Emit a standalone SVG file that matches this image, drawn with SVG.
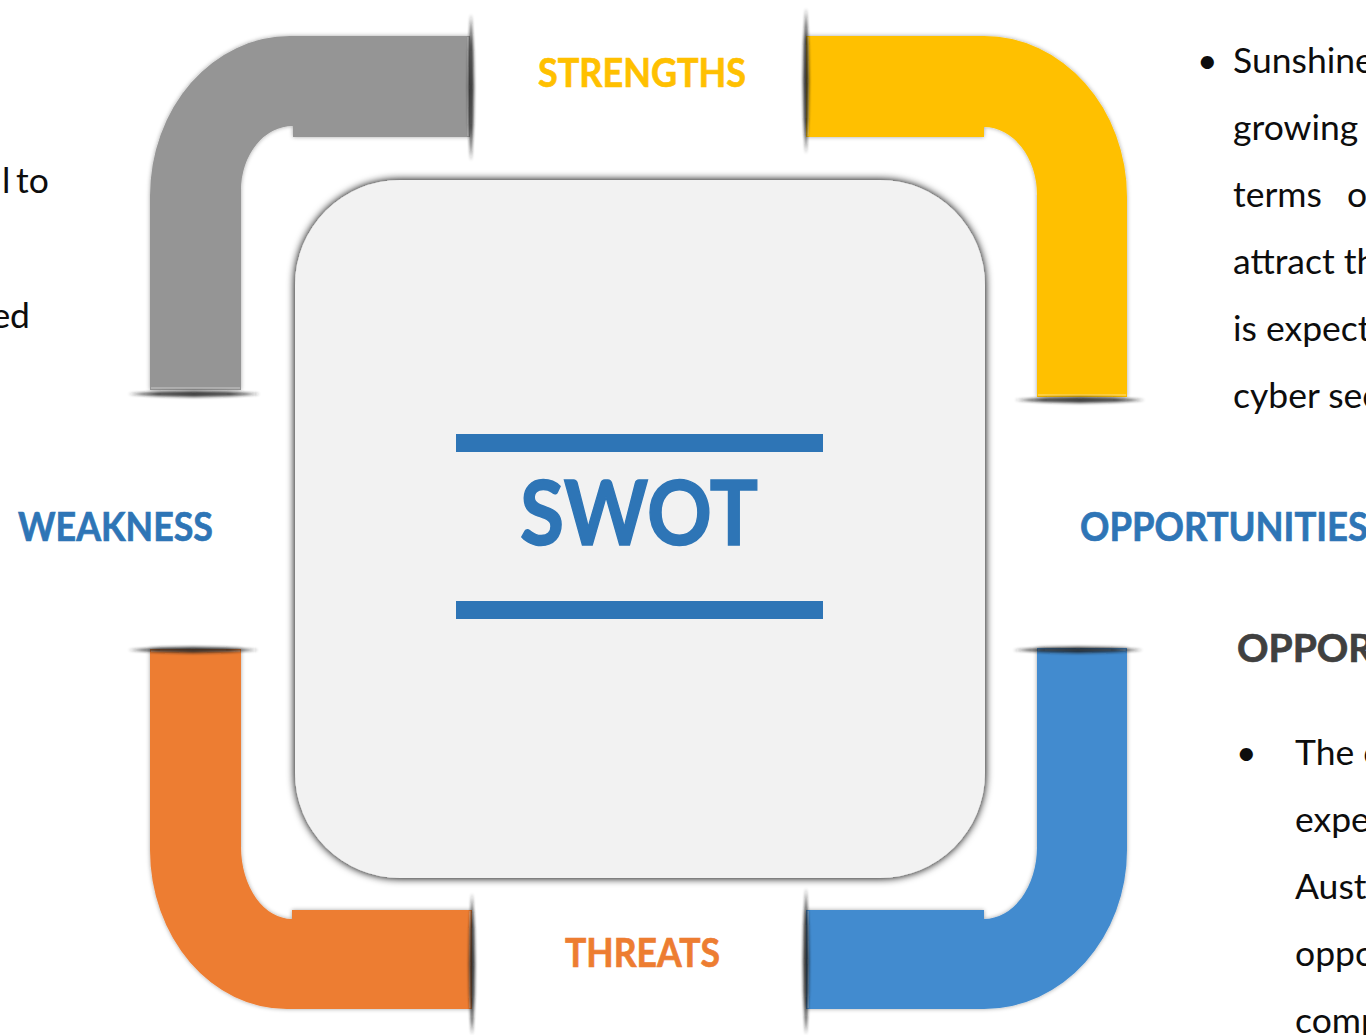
<svg xmlns="http://www.w3.org/2000/svg" width="1366" height="1035" viewBox="0 0 1366 1035">
  <defs>
    <filter id="armShadow" x="-10%" y="-10%" width="120%" height="120%">
      <feDropShadow dx="0" dy="0" stdDeviation="2" flood-color="#000" flood-opacity="0.35"/>
    </filter>
    <filter id="boxShadow" x="-10%" y="-10%" width="120%" height="120%">
      <feGaussianBlur in="SourceAlpha" stdDeviation="4"/>
      <feComponentTransfer><feFuncA type="linear" slope="1.1"/></feComponentTransfer>
      <feMerge><feMergeNode/><feMergeNode in="SourceGraphic"/></feMerge>
    </filter>
    <filter id="capBlur" x="-200%" y="-20%" width="500%" height="140%">
      <feGaussianBlur stdDeviation="1.6"/>
    </filter>
    <filter id="capBlurH" x="-20%" y="-200%" width="140%" height="500%">
      <feGaussianBlur stdDeviation="1.6"/>
    </filter>
  </defs>
  <style>
    .cap { fill: #1a1a1a; opacity: 0.85; }
    .shine { stroke: #ffffff; stroke-opacity: 0.25; stroke-width: 2; fill: none; }
    .label { font-family: Lato, "Liberation Sans", sans-serif; font-weight: 700; font-size: 41px; stroke-width: 0.7; }
    .body { font-family: Lato, "Liberation Sans", sans-serif; font-size: 35.5px; fill: #0d0d0d; }
    .head { font-family: Lato, "Liberation Sans", sans-serif; font-weight: 700; font-size: 39px; fill: #404040; stroke: #404040; stroke-width: 0.7; }
  </style>

  <rect width="1366" height="1035" fill="#ffffff"/>

  <!-- four elbow arms around the centre box -->
  <g id="arm-strengths-gray">
    <path d="M470,36 L290,36 A140,160 0 0 0 150,196 L150,390 L241,390 L241,190 A52,64 0 0 1 293,126 L293,137 L470,137 Z" fill="#959595" filter="url(#armShadow)"/>
    <line class="shine" x1="468" y1="37" x2="468" y2="136"/>
    <line class="shine" x1="151" y1="388" x2="240" y2="388"/>
    <path class="cap" filter="url(#capBlur)" d="M471,14 Q477,87 471,161 Q465,87 471,14 Z"/>
    <path class="cap" filter="url(#capBlurH)" d="M128,394 Q194,400 260,394 Q194,388 128,394 Z"/>
  </g>

  <g id="arm-opportunities-yellow">
    <path d="M806,36 L984,36 A143,161 0 0 1 1127,197 L1127,397 L1037,397 L1037,195 A53,68 0 0 0 984,127 L984,137 L806,137 Z" fill="#FFC000" filter="url(#armShadow)"/>
    <line class="shine" x1="808" y1="37" x2="808" y2="136"/>
    <line class="shine" x1="1038" y1="395" x2="1126" y2="395"/>
    <path class="cap" filter="url(#capBlur)" d="M806,8 Q812,81 806,154 Q800,81 806,8 Z"/>
    <path class="cap" filter="url(#capBlurH)" d="M1015,400 Q1080,406 1145,400 Q1080,394 1015,400 Z"/>
  </g>

  <g id="arm-weakness-orange">
    <path d="M150,649 L150,850 A137,159 0 0 0 287,1009 L472,1009 L472,910 L292,910 L292,919 A51,72 0 0 1 241,847 L241,649 Z" fill="#ED7D31" filter="url(#armShadow)"/>
    <line class="shine" x1="151" y1="651" x2="240" y2="651"/>
    <line class="shine" x1="470" y1="911" x2="470" y2="1008"/>
    <path class="cap" filter="url(#capBlurH)" d="M128,650 Q193,644 258,650 Q193,656 128,650 Z"/>
    <path class="cap" filter="url(#capBlur)" d="M472,893 Q478,964 472,1035 Q466,964 472,893 Z"/>
  </g>

  <g id="arm-threats-blue">
    <path d="M806,910 L984,910 L984,919 A53,72 0 0 0 1037,847 L1037,648 L1127,648 L1127,850 A143,159 0 0 1 984,1009 L806,1009 Z" fill="#428BCF" filter="url(#armShadow)"/>
    <line class="shine" x1="1038" y1="650" x2="1126" y2="650"/>
    <line class="shine" x1="808" y1="911" x2="808" y2="1008"/>
    <path class="cap" filter="url(#capBlurH)" d="M1013,650 Q1078,644 1143,650 Q1078,656 1013,650 Z"/>
    <path class="cap" filter="url(#capBlur)" d="M806,888 Q812,961 806,1035 Q800,961 806,888 Z"/>
  </g>

  <!-- centre box -->
  <g id="swot-box">
    <rect x="295" y="180" width="690" height="698" rx="105" ry="105" fill="#F2F2F2" filter="url(#boxShadow)"/>
    <rect x="456" y="434" width="367" height="18" fill="#2E75B6"/>
    <rect x="456" y="601" width="367" height="18" fill="#2E75B6"/>
    <text x="520" y="545" font-family="Lato, 'Liberation Sans', sans-serif" font-weight="700" font-size="90" fill="#2E75B6" stroke="#2E75B6" stroke-width="1.5" textLength="238" lengthAdjust="spacingAndGlyphs">SWOT</text>
  </g>

  <!-- quadrant labels -->
  <g id="label-strengths"><text class="label" x="538" y="87" fill="#FFC000" stroke="#FFC000" textLength="208" lengthAdjust="spacingAndGlyphs">STRENGTHS</text></g>
  <g id="label-weakness"><text class="label" x="18" y="541" fill="#2E75B6" stroke="#2E75B6" textLength="195" lengthAdjust="spacingAndGlyphs">WEAKNESS</text></g>
  <g id="label-opportunities"><text class="label" x="1080" y="541" fill="#2E75B6" stroke="#2E75B6" textLength="288" lengthAdjust="spacingAndGlyphs">OPPORTUNITIES</text></g>
  <g id="label-threats"><text class="label" x="565" y="967" fill="#ED7D31" stroke="#ED7D31" textLength="155" lengthAdjust="spacingAndGlyphs">THREATS</text></g>

  <!-- side notes -->
  <g id="note-left">
    <text class="body" x="2" y="193">l</text>
    <text class="body" x="16" y="193">to</text>
    <text class="body" x="30" y="328" text-anchor="end">ed</text>
  </g>

  <g id="note-right-top">
    <text class="body" x="1197" y="73">•</text>
    <text class="body" x="1233" y="73">Sunshine</text>
    <text class="body" x="1233" y="140">growing</text>
    <text class="body" x="1233" y="207">terms</text>
    <text class="body" x="1347" y="207">o</text>
    <text class="body" x="1233" y="274">attract th</text>
    <text class="body" x="1233" y="341">is expect</text>
    <text class="body" x="1233" y="408">cyber sec</text>
  </g>

  <g id="note-right-bottom">
    <text class="head" x="1237" y="662">OPPORT</text>
    <text class="body" x="1236" y="765">•</text>
    <text class="body" x="1295" y="765">The c</text>
    <text class="body" x="1295" y="832">expe</text>
    <text class="body" x="1295" y="899">Austr</text>
    <text class="body" x="1295" y="966">oppo</text>
    <text class="body" x="1295" y="1033">comp</text>
  </g>
</svg>
